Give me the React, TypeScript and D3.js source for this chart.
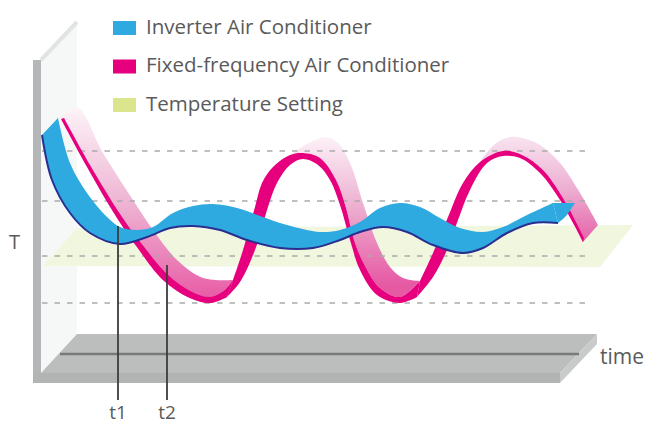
import React from "react";
import * as d3 from "d3";

type P = [number, number];

const legendLabels = ["Inverter Air Conditioner", "Fixed-frequency Air Conditioner", "Temperature Setting"];
const legendColors = ["#2eaae1", "#e6007e", "#dbe58e"];
const gridLevels = [233, 183, 128, 81];
const markerTimes: [string, number, number][] = [["t1", 85, 158], ["t2", 134, 119]];

const blueLower: P[] = [[9,249],[19,204],[37,171],[57,151],[87,140],[114,147],[137,156],[160,158],[187,154],[214,144],[247,136],[280,136],[307,144],[327,152],[350,157],[374,152],[400,139],[430,131],[450,136],[474,151],[500,161],[525,161]];
const blueUpper: P[] = [[25,266],[37,221],[54,191],[74,167],[87,157],[104,154],[120,157],[140,171],[160,178],[180,180],[204,176],[227,168],[254,159],[287,152],[307,154],[327,162],[347,176],[367,181],[387,177],[407,166],[427,156],[450,152],[470,157],[494,169],[520,181]];
const blueTip: P[] = [[525,161],[530,165],[534,169],[542,181],[520,181]];

const band1Front: P[] = [[28,265],[54,217],[84,166],[104,137],[130,104],[157,86],[177,81],[194,87]];
const band1Back: P[] = [[28,266],[44,277],[70,231],[100,184],[120,154],[144,124],[170,106],[200,104]];
const rim1Inner: P[] = [[31,266],[57,219],[87,170],[108,141],[135,109],[159,92],[177,87],[192,94],[200,104]];

const arch1Outer: P[] = [[200,104],[210,134],[222,177],[229,201],[240,217],[257,229],[270,231],[287,226],[303,204],[313,176],[321,144],[331,120],[347,96],[367,87],[387,103]];
const arch1Inner: P[] = [[194,87],[207,102],[222,134],[235,177],[244,201],[257,219],[270,225],[285,219],[297,204],[307,179],[317,144],[327,114],[344,89],[367,81],[384,87]];
const arch2Outer: P[] = [[387,103],[400,131],[415,167],[430,201],[447,222],[470,233],[489,229],[510,214],[530,186],[551,146]];
const arch2Inner: P[] = [[384,87],[400,107],[414,134],[425,164],[437,194],[454,221],[470,228],[487,226],[507,211],[527,184],[550,142]];

const band2Back: P[] = [[257,229],[274,240],[292,247],[304,242],[317,221],[330,181],[344,141],[357,117],[370,106],[387,103]];
const band2Front: P[] = [[257,229],[270,231],[287,226],[303,204],[313,176],[321,144],[331,120],[347,96],[367,87],[387,103]];
const band3Back: P[] = [[447,222],[462,240],[477,247],[490,246],[507,239],[527,221],[547,191],[565,159]];
const band3Front: P[] = [[447,222],[470,233],[489,229],[510,214],[530,186],[550,142]];

const x = d3.scaleLinear().domain([0, 616]).range([33, 649]);
const y = d3.scaleLinear().domain([0, 384]).range([384, 0]);

const smooth = d3.line<P>().x(d => x(d[0])).y(d => y(d[1])).curve(d3.curveCatmullRom.alpha(0.5));
const straight = d3.line<P>().x(d => x(d[0])).y(d => y(d[1]));

const ribbon = (a: P[], b: P[]) => {
  const pa = smooth(a)!;
  const pb = smooth([...b].reverse())!;
  return pa + "L" + pb.slice(1) + "Z";
};
const poly = (pts: P[]) => straight(pts)! + "Z";

const FONT = "'Open Sans', sans-serif";
const TEXT = "#5a5a5a";

const wallFace: P[] = [[8,324],[44,362],[44,50],[8,11]];
const wallEdge: P[] = [[8,324],[44,362]];
const wallBar: P[] = [[0,324],[8,324],[8,1],[0,1]];
const planeTemp: P[] = [[10,118],[44,156],[600,159],[567,117]];
const floorTop: P[] = [[44,50],[564,50],[527,11],[8,11]];
const floorFront: P[] = [[0,11],[527,11],[527,1],[0,1]];
const floorSide: P[] = [[564,50],[564,40],[527,1],[527,11]];
const floorRail: P[] = [[27,30],[546,30]];

export default function App() {
  return (
    <svg width={649} height={424} style={{ position: "absolute", left: 0, top: 0, background: "#fff" }}>
      <defs>
        <filter id="soft" x="-5%" y="-5%" width="110%" height="110%">
          <feGaussianBlur stdDeviation="0.6" />
        </filter>
        <linearGradient id="g1" gradientUnits="userSpaceOnUse" x1="0" x2="0" y1={y(277)} y2={y(84)}>
          <stop offset="0" stopColor="#fdf3f8" />
          <stop offset="0.5" stopColor="#eeb4d3" />
          <stop offset="1" stopColor="#e85aa5" />
        </linearGradient>
        <linearGradient id="g2" gradientUnits="userSpaceOnUse" x1="0" x2="0" y1={y(250)} y2={y(100)}>
          <stop offset="0" stopColor="#fdf4f9" />
          <stop offset="0.45" stopColor="#eeb4d3" />
          <stop offset="1" stopColor="#e65aa4" />
        </linearGradient>
        <linearGradient id="g3" gradientUnits="userSpaceOnUse" x1="0" x2="0" y1={y(250)} y2={y(142)}>
          <stop offset="0" stopColor="#f9e6f1" />
          <stop offset="0.5" stopColor="#edb0d2" />
          <stop offset="1" stopColor="#e561a8" />
        </linearGradient>
      </defs>
      <g filter="url(#soft)">
        <path d={poly(wallFace)} fill="#f6f8f8" />
        <path d={straight(wallEdge)!} stroke="#e2e4e4" strokeWidth={4} fill="none" />
        <path d={poly(wallBar)} fill="#b4b6b7" />
        <path d={poly(planeTemp)} fill="#f1f6df" />

        <path d={ribbon(band1Back, band1Front)} fill="url(#g1)" />
        <path d={ribbon(band2Back, band2Front)} fill="url(#g2)" />
        <path d={ribbon(band3Back, band3Front)} fill="url(#g3)" />

        {gridLevels.map(l => (
          <line key={l} x1={x(9)} x2={x(555)} y1={y(l)} y2={y(l)} stroke="#a9abab" strokeWidth={1.6} strokeDasharray="5.5 7" />
        ))}

        <path d={ribbon(band1Front, rim1Inner)} fill="#e6007e" />
        <path d={ribbon(arch1Outer, arch1Inner)} fill="#e6007e" />
        <path d={ribbon(arch2Outer, arch2Inner)} fill="#e6007e" />

        <path d={poly(floorTop)} fill="#bcbebe" />
        <path d={poly(floorFront)} fill="#b2b4b4" />
        <path d={poly(floorSide)} fill="#c9cbcb" />
        <path d={straight(floorRail)!} stroke="#77797a" strokeWidth={2.5} fill="none" />

        <path d={ribbon(blueUpper, blueLower)} fill="#2eaae1" />
        <path d={poly(blueTip)} fill="#2eaae1" />
        <path d={smooth(blueLower)!} fill="none" stroke="#2b2f8f" strokeWidth={2} />

        {markerTimes.map(([name, t, T]) => (
          <line key={name} x1={x(t)} x2={x(t)} y1={y(T)} y2={400} stroke="#3c3c3c" strokeWidth={1.8} />
        ))}

        {legendColors.map((c, i) => (
          <rect key={c} x={113} y={21 + i * 38.5} width={23} height={14} fill={c} />
        ))}
      </g>
      {legendLabels.map((t, i) => (
        <text key={t} x={146} y={34 + i * 38.3} fontFamily={FONT} fontSize={20.5} fill={TEXT}>{t}</text>
      ))}
      <text x={9} y={249} fontFamily={FONT} fontSize={20} fill={TEXT}>T</text>
      <text x={600} y={364} fontFamily={FONT} fontSize={21} fill={TEXT}>time</text>
      {markerTimes.map(([name, t]) => (
        <text key={name} x={x(t)} y={419} textAnchor="middle" fontFamily={FONT} fontSize={19} fill={TEXT}>{name}</text>
      ))}
    </svg>
  );
}
